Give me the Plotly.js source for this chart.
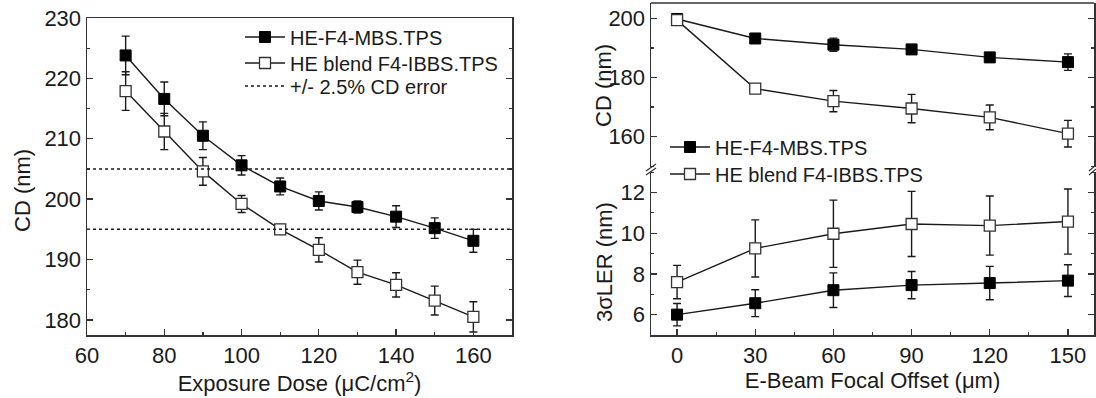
<!DOCTYPE html>
<html>
<head>
<meta charset="utf-8">
<script src="https://cdn.plot.ly/plotly-3.0.1.min.js"></script>
<style>html,body{margin:0;padding:0;background:#fff;}#chart{width:1096px;height:398px;}</style>
</head>
<body>
<div id="chart"></div>
<script>
// ---- Data ----
const doseLevels = [70, 80, 90, 100, 110, 120, 130, 140, 150, 160];
const cdMBS      = [223.8, 216.6, 210.5, 205.6, 202.1, 199.7, 198.7, 197.1, 195.2, 193.1];
const cdMBSErr   = [3.2, 2.8, 2.3, 1.6, 1.4, 1.5, 1.0, 1.8, 1.7, 1.9];
const cdIBBS     = [217.9, 211.2, 204.6, 199.2, 195.0, 191.6, 187.9, 185.8, 183.2, 180.5];
const cdIBBSErr  = [3.2, 3.0, 2.3, 1.4, 0.8, 2.0, 2.0, 2.0, 2.4, 2.5];
const targetCD   = 200;
const cdTolerance = 0.025;
const doseSpan   = [60, 170];

const focalOffset  = [0, 30, 60, 90, 120, 150];
const cdOffMBS     = [199.8, 193.2, 191.1, 189.5, 186.8, 185.2];
const cdOffMBSErr  = [1.0, 1.0, 2.2, 1.5, 1.5, 2.8];
const cdOffIBBS    = [199.4, 176.2, 172.0, 169.5, 166.5, 161.0];
const cdOffIBBSErr = [1.2, 1.5, 3.6, 4.8, 4.2, 4.5];
const lerMBS       = [6.0, 6.56, 7.2, 7.45, 7.55, 7.67];
const lerMBSErr    = [0.55, 0.66, 0.85, 0.67, 0.82, 0.78];
const lerIBBS      = [7.6, 9.25, 9.97, 10.45, 10.37, 10.57];
const lerIBBSErr   = [0.82, 1.4, 1.65, 1.6, 1.45, 1.6];

const nameMBS  = "HE-F4-MBS.TPS";
const nameIBBS = "HE blend F4-IBBS.TPS";
const nameErr  = "+/- 2.5% CD error";

// ---- helpers (pixel -> paper) ----
const W = 1096, H = 398;
const px = x => x / W;
const py = y => 1 - y / H;
const FONT = "Liberation Sans, Arial, sans-serif";
const INK = "#1a1a1a";

function errBar(arr) {
  return {type: "data", array: arr, visible: true, color: INK, thickness: 1.4, width: 4};
}
const filledMarker = {symbol: "square", size: 11, color: "#000", line: {color: "#000", width: 1}};
const openMarker = {symbol: "square", size: 11, color: "#fff", line: {color: "#333", width: 1.3}};
const lineStyle = {color: INK, width: 1.4};

const hi = targetCD * (1 + cdTolerance), lo = targetCD * (1 - cdTolerance);

const traces = [
  {x: doseLevels, y: cdMBS, error_y: errBar(cdMBSErr), mode: "lines+markers", name: nameMBS,
   marker: filledMarker, line: lineStyle, xaxis: "x", yaxis: "y", legend: "legend"},
  {x: doseLevels, y: cdIBBS, error_y: errBar(cdIBBSErr), mode: "lines+markers", name: nameIBBS,
   marker: openMarker, line: lineStyle, xaxis: "x", yaxis: "y", legend: "legend3"},
  {x: [doseSpan[0], doseSpan[1], null, doseSpan[0], doseSpan[1]], y: [hi, hi, null, lo, lo],
   mode: "lines", name: nameErr, line: {color: INK, width: 1.5, dash: "3px,3px"},
   xaxis: "x", yaxis: "y", legend: "legend4"},

  {x: focalOffset, y: cdOffMBS, error_y: errBar(cdOffMBSErr), mode: "lines+markers", name: nameMBS,
   marker: filledMarker, line: lineStyle, xaxis: "x2", yaxis: "y2", legend: "legend2"},
  {x: focalOffset, y: cdOffIBBS, error_y: errBar(cdOffIBBSErr), mode: "lines+markers", name: nameIBBS,
   marker: openMarker, line: lineStyle, xaxis: "x2", yaxis: "y2", legend: "legend5"},
  {x: focalOffset, y: lerMBS, error_y: errBar(lerMBSErr), mode: "lines+markers", name: nameMBS,
   marker: filledMarker, line: lineStyle, xaxis: "x2", yaxis: "y3", showlegend: false},
  {x: focalOffset, y: lerIBBS, error_y: errBar(lerIBBSErr), mode: "lines+markers", name: nameIBBS,
   marker: openMarker, line: lineStyle, xaxis: "x2", yaxis: "y3", showlegend: false}
];

const tickFont = {family: FONT, size: 22, color: INK};
const titleFont = {family: FONT, size: 22, color: INK};
const legendFont = {family: FONT, size: 20, color: INK};

function axisBase(extra) {
  return Object.assign({
    showgrid: false, zeroline: false, showline: true, linecolor: "#333", linewidth: 1.5,
    ticks: "inside", ticklen: 6, tickwidth: 1.3, tickcolor: "#333",
    tickfont: tickFont, fixedrange: true
  }, extra);
}
function legendAt(xPix, yPix) {
  return {x: px(xPix), y: py(yPix), xanchor: "left", yanchor: "middle", bgcolor: "rgba(0,0,0,0)",
    font: legendFont, tracegroupgap: 0, itemwidth: 40};
}

const breakY = 170;
const layout = {
  width: W, height: H,
  margin: {l: 0, r: 0, t: 0, b: 0},
  paper_bgcolor: "#fff", plot_bgcolor: "rgba(0,0,0,0)",
  font: {family: FONT, color: INK},
  xaxis: axisBase({domain: [px(87), px(512)], anchor: "y", range: doseSpan, tick0: 60, dtick: 20,
    mirror: true, minor: {dtick: 10, ticks: "inside", ticklen: 3, tickcolor: "#333"},
    title: {text: "Exposure Dose (\u03bcC/cm<sup>2</sup>)", font: titleFont, standoff: 0}}),
  yaxis: axisBase({domain: [py(335), py(18)], anchor: "x", range: [177.5, 230], tick0: 180, dtick: 10,
    mirror: "ticks", minor: {dtick: 5, ticks: "inside", ticklen: 3, tickcolor: "#333"}}),
  xaxis2: axisBase({domain: [px(651), px(1094)], anchor: "y3", range: [-10, 160], tick0: 0, dtick: 30,
    minor: {dtick: 15, ticks: "inside", ticklen: 3, tickcolor: "#333"},
    title: {text: "E-Beam Focal Offset (\u03bcm)", font: titleFont, standoff: 0}}),
  yaxis2: axisBase({domain: [py(breakY), py(3)], anchor: "x2", range: [148.7, 205.2], tick0: 0, dtick: 20,
    mirror: "ticks", minor: {dtick: 10, ticks: "inside", ticklen: 3, tickcolor: "#333"}}),
  yaxis3: axisBase({domain: [py(335), py(breakY)], anchor: "x2", range: [5, 13.1], tick0: 0, dtick: 2,
    mirror: "ticks", minor: {dtick: 1, ticks: "inside", ticklen: 3, tickcolor: "#333"}}),
  legend: legendAt(240, 37),
  legend3: legendAt(240, 63),
  legend4: legendAt(240, 86),
  legend2: legendAt(665, 147),
  legend5: legendAt(665, 174),
  annotations: [
    {text: "CD (nm)", textangle: -90, x: px(22), y: py(191), xref: "paper", yref: "paper",
     showarrow: false, font: titleFont, xanchor: "center", yanchor: "middle"},
    {text: "CD (nm)", textangle: -90, x: px(604), y: py(86), xref: "paper", yref: "paper",
     showarrow: false, font: titleFont, xanchor: "center", yanchor: "middle"},
    {text: "3\u03c3LER (nm)", textangle: -90, x: px(604), y: py(262), xref: "paper", yref: "paper",
     showarrow: false, font: titleFont, xanchor: "center", yanchor: "middle"}
  ],
  shapes: [
    // top border of right panel
    {type: "line", xref: "paper", yref: "paper", x0: px(651), x1: px(1094), y0: py(3), y1: py(3),
     line: {color: "#333", width: 1.5}},
    // axis break gaps
    {type: "rect", xref: "paper", yref: "paper", x0: px(648), x1: px(654), y0: py(172), y1: py(167),
     fillcolor: "#fff", line: {width: 0}},
    {type: "rect", xref: "paper", yref: "paper", x0: px(1091), x1: px(1097), y0: py(172), y1: py(167),
     fillcolor: "#fff", line: {width: 0}},
    // break slashes
    {type: "line", xref: "paper", yref: "paper", x0: px(646), x1: px(656), y0: py(171), y1: py(164),
     line: {color: "#333", width: 1.2}},
    {type: "line", xref: "paper", yref: "paper", x0: px(646), x1: px(656), y0: py(175), y1: py(168),
     line: {color: "#333", width: 1.2}},
    {type: "line", xref: "paper", yref: "paper", x0: px(1089), x1: px(1096), y0: py(171), y1: py(165),
     line: {color: "#333", width: 1.2}},
    {type: "line", xref: "paper", yref: "paper", x0: px(1089), x1: px(1096), y0: py(175), y1: py(169),
     line: {color: "#333", width: 1.2}}
  ]
};

Plotly.newPlot("chart", traces, layout, {staticPlot: true, displayModeBar: false});
</script>
</body>
</html>
